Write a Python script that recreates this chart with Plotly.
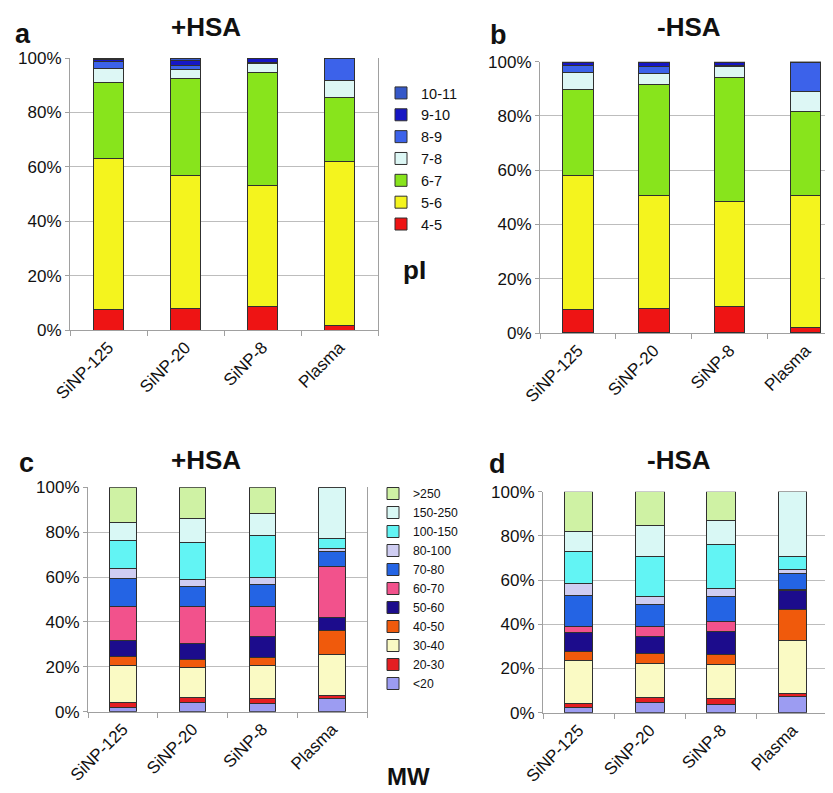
import plotly.graph_objects as go

categories = ["SiNP-125", "SiNP-20", "SiNP-8", "Plasma"]
y_ticks = [0, 20, 40, 60, 80, 100]
y_tick_text = ["0%", "20%", "40%", "60%", "80%", "100%"]

# pI fractions (%), bottom to top
pi_labels = ["4-5", "5-6", "6-7", "7-8", "8-9", "9-10", "10-11"]
pi_colors = ["#ee1414", "#f4f41e", "#88e41c", "#ddf7f5", "#3c62ea", "#1616c4", "#3558c8"]
pi_plus = {
    "4-5": [7.6, 8.0, 8.8, 1.5],
    "5-6": [55.6, 48.8, 44.2, 60.5],
    "6-7": [27.8, 35.8, 41.6, 23.5],
    "7-8": [5.0, 3.0, 3.5, 6.2],
    "8-9": [2.6, 1.8, 0.4, 8.3],
    "9-10": [1.0, 1.5, 1.2, 0.0],
    "10-11": [0.4, 1.1, 0.3, 0.0],
}
pi_minus = {
    "4-5": [8.8, 9.1, 9.8, 2.1],
    "5-6": [49.1, 41.6, 38.7, 48.6],
    "6-7": [31.9, 41.0, 45.6, 30.9],
    "7-8": [6.1, 4.0, 4.1, 7.6],
    "8-9": [2.6, 2.6, 0.3, 10.5],
    "9-10": [1.2, 1.4, 1.2, 0.3],
    "10-11": [0.3, 0.3, 0.3, 0.0],
}

# MW fractions (%), bottom to top
mw_labels = ["<20", "20-30", "30-40", "40-50", "50-60", "60-70", "70-80",
             "80-100", "100-150", "150-250", ">250"]
mw_colors = ["#9c9cf2", "#e41e22", "#fafac4", "#f05a0c", "#1c0c8c", "#f2528c",
             "#2464e4", "#cfcdf2", "#62f4f4", "#d9f8f5", "#cff2a4"]
mw_plus = {
    "<20": [1.9, 4.2, 3.7, 5.9],
    "20-30": [2.1, 2.0, 2.2, 1.1],
    "30-40": [16.8, 13.4, 14.5, 18.3],
    "40-50": [4.0, 3.7, 3.8, 10.7],
    "50-60": [7.1, 6.9, 9.5, 5.9],
    "60-70": [14.9, 16.6, 13.1, 23.0],
    "70-80": [12.6, 8.9, 9.7, 6.7],
    "80-100": [4.2, 3.4, 3.2, 1.2],
    "100-150": [12.9, 16.2, 18.6, 4.5],
    "150-250": [7.7, 10.9, 9.8, 22.7],
    ">250": [15.8, 13.8, 11.9, 0.0],
}
mw_minus = {
    "<20": [2.3, 4.5, 3.8, 7.2],
    "20-30": [1.9, 2.3, 2.7, 1.5],
    "30-40": [19.6, 15.5, 15.5, 23.9],
    "40-50": [4.1, 4.5, 4.4, 13.9],
    "50-60": [8.3, 7.6, 10.3, 8.7],
    "60-70": [2.7, 4.5, 4.5, 0.6],
    "70-80": [14.3, 10.1, 11.3, 7.2],
    "80-100": [5.3, 3.8, 3.8, 1.6],
    "100-150": [14.4, 18.1, 20.0, 6.3],
    "150-250": [9.0, 13.6, 10.6, 29.1],
    ">250": [18.1, 15.5, 13.1, 0.0],
}

# page is 833x793; the browser body adds an 8px margin at top-left
OFF = 8
W, H = 833 - OFF, 793 - OFF
FONT = "Arial, Liberation Sans, sans-serif"

fig = go.Figure()

def add_set(data, labels, colors, xa, ya, legend, show, width):
    for lab, col in zip(labels, colors):
        fig.add_trace(go.Bar(
            x=categories, y=data[lab], name=lab, marker_color=col,
            marker_line=dict(color="#303030", width=1), width=width,
            xaxis=xa, yaxis=ya, legend=legend, legendgroup=legend + lab,
            showlegend=show, hoverinfo="x+y+name"))

add_set(pi_plus, pi_labels, pi_colors, "x", "y", "legend", True, 0.4)
add_set(pi_minus, pi_labels, pi_colors, "x2", "y2", "legend", False, 0.4)
add_set(mw_plus, mw_labels, mw_colors, "x3", "y3", "legend2", True, 0.38)
add_set(mw_minus, mw_labels, mw_colors, "x4", "y4", "legend2", False, 0.4)

def fx(p):
    return min(max((p - OFF) / W, 0.0), 1.0)

def fy(p):
    return min(max(1 - (p - OFF) / H, 0.0), 1.0)

def px_x(a, b):
    return [fx(a), fx(b)]

def px_y(top, bottom):
    return [fy(bottom), fy(top)]

panels = {
    "": (px_x(70, 378), px_y(58, 330), [-0.5, 3.5]),
    "2": (px_x(540, 833), px_y(61.7, 333), [-0.5, 3.36]),
    "3": (px_x(88, 367), px_y(487.3, 711.7), [-0.5, 3.5]),
    "4": (px_x(543, 828), px_y(491.7, 712.7), [-0.5, 3.5]),
}

layout = dict(
    width=W, height=H, margin=dict(l=0, r=0, t=0, b=0, autoexpand=False),
    paper_bgcolor="white", plot_bgcolor="white", barmode="stack",
    font=dict(family=FONT, color="#111111", size=16),
)
for k, (xd, yd, xr) in panels.items():
    layout["xaxis" + k] = dict(
        domain=xd, anchor="y" + k, range=xr, type="category", automargin=False,
        tickangle=-45, tickfont=dict(size=17), showgrid=False,
        showline=True, linecolor="#a0a0a0", linewidth=1,
        ticks="outside", tickson="boundaries", ticklen=5, tickcolor="#a0a0a0",
        fixedrange=True)
    layout["yaxis" + k] = dict(
        domain=yd, anchor="x" + k, range=[0, 100], automargin=False,
        tickmode="array", tickvals=y_ticks, ticktext=y_tick_text,
        tickfont=dict(size=17), showgrid=True, gridcolor="#bdbdbd",
        gridwidth=1, showline=True, mirror=True, linecolor="#a0a0a0", linewidth=1,
        ticks="outside", ticklen=4, tickcolor="#a0a0a0", zeroline=False,
        fixedrange=True)

layout["legend"] = dict(
    x=fx(381), y=fy(77), xanchor="left", yanchor="top",
    traceorder="reversed", font=dict(size=14.5), bgcolor="rgba(0,0,0,0)",
    itemwidth=30, tracegroupgap=0)
layout["legend2"] = dict(
    x=fx(373), y=fy(479), xanchor="left", yanchor="top",
    traceorder="reversed", font=dict(size=12.2), bgcolor="rgba(0,0,0,0)",
    itemwidth=30, tracegroupgap=0)

fig.update_layout(**layout)

def note(text, x, y, size, bold=True):
    fig.add_annotation(text=("<b>%s</b>" % text) if bold else text,
                       x=fx(x), y=fy(y), xref="paper", yref="paper",
                       showarrow=False, xanchor="center", yanchor="middle",
                       font=dict(size=size, family=FONT, color="#111111"))

note("a", 23, 34, 27)
note("+HSA", 206, 27, 26)
note("b", 499, 35, 27)
note("-HSA", 689, 27, 26)
note("c", 26, 463, 27)
note("+HSA", 206, 460, 26)
note("d", 497, 464, 27)
note("-HSA", 679, 460, 26)
note("pI", 414, 270, 26)
note("MW", 408, 776, 24)

fig.write_html("out.html")
